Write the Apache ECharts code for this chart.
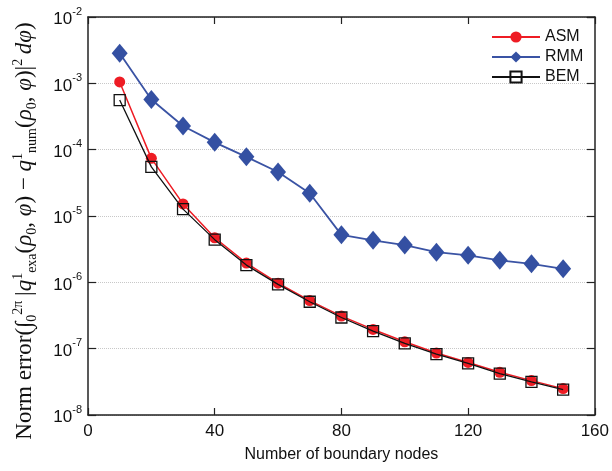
<!DOCTYPE html>
<html>
<head>
<meta charset="utf-8">
<script src="https://cdn.jsdelivr.net/npm/echarts@6/dist/echarts.min.js"></script>
<style>
  html, body { margin: 0; padding: 0; background: #fff; }
  #chart { width: 612px; height: 471px; }
</style>
</head>
<body>
<div id="chart"></div>
<script>
// Number of boundary nodes
const nodes = [10, 20, 30, 40, 50, 60, 70, 80, 90, 100, 110, 120, 130, 140, 150];

// Norm error per method
const asm = [1.05e-3, 7.4e-5, 1.52e-5, 4.7e-6, 1.95e-6, 9.7e-7, 5.3e-7, 3.1e-7,
             1.95e-7, 1.27e-7, 8.6e-8, 6.2e-8, 4.4e-8, 3.3e-8, 2.5e-8];
const rmm = [2.85e-3, 5.7e-4, 2.27e-4, 1.29e-4, 7.8e-5, 4.6e-5, 2.2e-5, 5.2e-6,
             4.3e-6, 3.65e-6, 2.85e-6, 2.55e-6, 2.15e-6, 1.9e-6, 1.6e-6];
const bem = [5.6e-4, 5.5e-5, 1.27e-5, 4.4e-6, 1.82e-6, 9.3e-7, 5.1e-7, 2.95e-7,
             1.84e-7, 1.2e-7, 8.3e-8, 6.0e-8, 4.2e-8, 3.15e-8, 2.42e-8];

const xTicks = [0, 40, 80, 120, 160];

const pairs = ys => nodes.map((x, i) => [x, ys[i]]);

const axisColor = '#222';
const sansFont = 'Liberation Sans';
const serifFont = 'Liberation Serif';

const chart = echarts.init(document.getElementById('chart'), null, { renderer: 'canvas' });

const yName =
  '{t|Norm error(}{t|∫}{sub|0}{sup|2π}{t|\u2009|}{it|q}{sup|1}{sub|exa}{t|(}{it|ρ}{sub|0}{t|, }{it|φ}{t|) − }' +
  '{it|q}{sup|1}{sub|num}{t|(}{it|ρ}{sub|0}{t|, }{it|φ}{t|)|}{sup|2}{t|\u2009}{it|d}{it|φ}{t|)}';

chart.setOption({
  animation: false,
  backgroundColor: '#fff',
  grid: { left: 88, right: 15, top: 17, bottom: 56, containLabel: false },
  legend: {
    orient: 'vertical',
    left: 486,
    top: 24,
    itemWidth: 48,
    itemHeight: 14,
    itemGap: 4,
    textStyle: { fontFamily: sansFont, fontSize: 16, color: '#111' },
    data: ['ASM', 'RMM', 'BEM']
  },
  xAxis: [
    {
      type: 'value',
      min: 0, max: 160, interval: 40,
      name: 'Number of boundary nodes',
      nameLocation: 'middle',
      nameGap: 32,
      nameTextStyle: { fontFamily: sansFont, fontSize: 16, color: '#111' },
      axisLine: { show: true, onZero: false, lineStyle: { color: axisColor, width: 1.5 } },
      axisTick: { show: true, inside: true, length: 7, lineStyle: { color: axisColor, width: 1.2 } },
      axisLabel: {
        margin: 8,
        fontFamily: sansFont, fontSize: 17, color: '#111',
        formatter: v => xTicks.includes(v) ? String(v) : ''
      },
      splitLine: { show: false }
    },
    {
      type: 'value',
      position: 'top',
      min: 0, max: 160, interval: 40,
      axisLine: { show: true, onZero: false, lineStyle: { color: axisColor, width: 1.5 } },
      axisTick: { show: true, inside: true, length: 7, lineStyle: { color: axisColor, width: 1.2 } },
      axisLabel: { show: false },
      splitLine: { show: false }
    }
  ],
  yAxis: [
    {
      type: 'log',
      logBase: 10,
      min: 1e-8, max: 1e-2,
      name: yName,
      nameLocation: 'middle',
      nameRotate: 90,
      nameGap: 47,
      nameTextStyle: {
        fontFamily: serifFont, fontSize: 23, color: '#111',
        padding: [0, 30, 0, 0],
        rich: {
          t: { fontFamily: serifFont, fontSize: 23, color: '#111', lineHeight: 32, verticalAlign: 'middle' },
          it: { fontFamily: serifFont, fontSize: 23, fontStyle: 'italic', color: '#111', lineHeight: 32, verticalAlign: 'middle' },
          sup: { fontFamily: serifFont, fontSize: 14, color: '#111', lineHeight: 32, verticalAlign: 'top', padding: [2, 0, 0, 0] },
          sub: { fontFamily: serifFont, fontSize: 14, color: '#111', lineHeight: 32, verticalAlign: 'bottom', padding: [0, 0, 2, 0] }
        }
      },
      axisLine: { show: true, onZero: false, lineStyle: { color: axisColor, width: 1.5 } },
      axisTick: { show: true, inside: true, length: 8, lineStyle: { color: axisColor, width: 1.2 } },
      axisLabel: {
        margin: 6,
        formatter: v => '{b|10}{s|' + Math.round(Math.log10(v)) + '}',
        rich: {
          b: { fontFamily: sansFont, fontSize: 17, color: '#111', lineHeight: 22, verticalAlign: 'bottom' },
          s: { fontFamily: sansFont, fontSize: 11, color: '#111', lineHeight: 22, verticalAlign: 'top' }
        }
      },
      splitLine: { show: true, lineStyle: { color: '#c8c8c8', type: 'dotted', width: 1 } }
    },
    {
      type: 'log',
      logBase: 10,
      min: 1e-8, max: 1e-2,
      position: 'right',
      axisLine: { show: true, onZero: false, lineStyle: { color: axisColor, width: 1.5 } },
      axisTick: { show: true, inside: true, length: 8, lineStyle: { color: axisColor, width: 1.2 } },
      axisLabel: { show: false },
      splitLine: { show: false }
    }
  ],
  series: [
    {
      name: 'ASM',
      type: 'line',
      data: pairs(asm),
      symbol: 'circle',
      symbolSize: 11,
      lineStyle: { color: '#ee1c24', width: 1.5 },
      itemStyle: { color: '#ee1c24', borderWidth: 0 },
      z: 3
    },
    {
      name: 'RMM',
      type: 'line',
      data: pairs(rmm),
      symbol: 'diamond',
      symbolSize: [16, 19],
      lineStyle: { color: '#3a53a4', width: 1.8 },
      itemStyle: { color: '#3450a2', borderWidth: 0 },
      z: 2
    },
    {
      name: 'BEM',
      type: 'line',
      data: pairs(bem),
      symbol: 'rect',
      symbolSize: 11,
      lineStyle: { color: '#111', width: 1.3 },
      itemStyle: { color: 'rgba(255,255,255,0)', borderColor: '#111', borderWidth: 1.3 },
      z: 4
    }
  ]
});
</script>
</body>
</html>
